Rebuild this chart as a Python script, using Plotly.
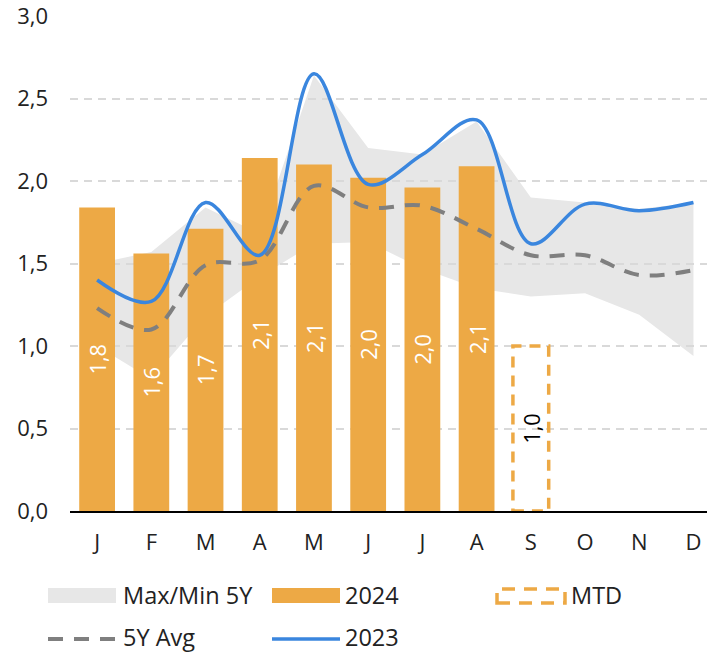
import plotly.graph_objects as go

# ---- data -------------------------------------------------------------
months = ["J", "F", "M", "A", "M", "J", "J", "A", "S", "O", "N", "D"]

values_2024 = [1.84, 1.56, 1.71, 2.14, 2.10, 2.02, 1.96, 2.09]
mtd_index = [8]
mtd_values = [1.00]

values_2023 = [1.40, 1.27, 1.87, 1.55, 2.65, 1.98, 2.16, 2.37, 1.62, 1.86, 1.82, 1.87]
avg_5y = [1.23, 1.10, 1.49, 1.52, 1.97, 1.84, 1.85, 1.71, 1.55, 1.55, 1.43, 1.46]
max_5y = [1.50, 1.57, 1.84, 1.68, 2.64, 2.20, 2.16, 2.36, 1.90, 1.87, 1.83, 1.87]
min_5y = [1.00, 0.80, 1.18, 1.42, 1.62, 1.63, 1.47, 1.35, 1.30, 1.32, 1.19, 0.94]

y_ticks = [0.0, 0.5, 1.0, 1.5, 2.0, 2.5, 3.0]

# ---- styling ----------------------------------------------------------
FONT = "Open Sans"
TEXT = "#222222"
ORANGE = "#EDA945"
BLUE = "#3A86DE"
GREY_LINE = "#7F7F7F"
BAND = "#E7E7E7"
GRID = "#D9D9D9"
BAR_W = 0.66
TICK_SIZE = 22
LEGEND_SIZE = 23.5
LABEL_SIZE = 22

W, H = 707, 655
M_L, M_R, M_T, M_B = 70, 0, 16, 144
PW, PH = W - M_L - M_R, H - M_T - M_B


def px_x(px):
    return (px - M_L) / PW


def px_y(py):
    return (H - M_B - py) / PH


x_all = list(range(len(months)))
x_2024 = list(range(len(values_2024)))

fig = go.Figure()

# 2024 monthly bars with rotated labels
fig.add_trace(go.Bar(
    x=x_2024, y=values_2024, width=BAR_W,
    marker=dict(color=ORANGE, line=dict(width=0)),
    texttemplate="%{y:.1f}", textposition="inside", insidetextanchor="middle",
    textangle=-90, textfont=dict(color="white", size=LABEL_SIZE, family=FONT),
    name="2024", hoverinfo="skip",
))

# month-to-date value (outline drawn as a dashed rectangle below)
fig.add_trace(go.Bar(
    x=mtd_index, y=mtd_values, width=BAR_W,
    marker=dict(color="rgba(0,0,0,0)", line=dict(width=0)),
    texttemplate="%{y:.1f}", textposition="inside", insidetextanchor="middle",
    textangle=-90, textfont=dict(color="black", size=LABEL_SIZE, family=FONT),
    name="MTD", hoverinfo="skip",
))

fig.add_trace(go.Scatter(
    x=x_all, y=avg_5y, mode="lines", name="5Y Avg",
    line=dict(color=GREY_LINE, width=4, dash="15px,11px", shape="spline", smoothing=1.0),
    hoverinfo="skip",
))
fig.add_trace(go.Scatter(
    x=x_all, y=values_2023, mode="lines", name="2023",
    line=dict(color=BLUE, width=3.5, shape="spline", smoothing=1.0),
    hoverinfo="skip",
))

shapes = []

# Max/Min 5Y band, under the gridlines
band_pts = list(zip(x_all, max_5y)) + list(zip(x_all[::-1], min_5y[::-1]))
band_path = "M " + " L ".join(f"{x},{y}" for x, y in band_pts) + " Z"
shapes.append(dict(type="path", path=band_path, xref="x", yref="y",
                   fillcolor=BAND, line=dict(width=0), layer="below"))

# dashed outline of the month-to-date bar
for xi, yv in zip(mtd_index, mtd_values):
    shapes.append(dict(type="rect", xref="x", yref="y",
                       x0=xi - BAR_W / 2, x1=xi + BAR_W / 2, y0=0, y1=yv,
                       line=dict(color=ORANGE, width=3.5, dash="11px,8px"),
                       fillcolor="rgba(0,0,0,0)", layer="above"))

# ---- legend ---------------------------------------------------------
annotations = []


def legend_text(px, py, label):
    annotations.append(dict(x=px_x(px), y=px_y(py), xref="paper", yref="paper",
                            text=label, showarrow=False, xanchor="left", yanchor="middle",
                            font=dict(family=FONT, size=LEGEND_SIZE, color=TEXT)))


def legend_box(x0, x1, y0, y1, **style):
    shapes.append(dict(type="rect", xref="paper", yref="paper",
                       x0=px_x(x0), x1=px_x(x1), y0=px_y(y1), y1=px_y(y0), **style))


def legend_line(x0, x1, yy, **line):
    shapes.append(dict(type="line", xref="paper", yref="paper",
                       x0=px_x(x0), x1=px_x(x1), y0=px_y(yy), y1=px_y(yy), line=line))


ROW1, ROW2 = 595, 637
legend_box(48, 116, 588, 603, fillcolor=BAND, line=dict(width=0))
legend_text(121, ROW1, "Max/Min 5Y")
legend_box(272, 340, 588, 603, fillcolor=ORANGE, line=dict(width=0))
legend_text(343, ROW1, "2024")
legend_box(497, 565, 589, 603, fillcolor="rgba(0,0,0,0)",
           line=dict(color=ORANGE, width=3.5, dash="13px,9px"))
legend_text(569, ROW1, "MTD")
legend_line(48, 116, 639, color=GREY_LINE, width=4, dash="15px,11px")
legend_text(121, ROW2, "5Y Avg")
legend_line(272, 340, 639, color=BLUE, width=3.5)
legend_text(343, ROW2, "2023")

fig.update_layout(
    width=W, height=H,
    margin=dict(l=M_L, r=M_R, t=M_T, b=M_B, pad=0),
    paper_bgcolor="white", plot_bgcolor="white",
    separators=", ",
    showlegend=False,
    barmode="overlay",
    font=dict(family=FONT, size=TICK_SIZE, color=TEXT),
    shapes=shapes,
    annotations=annotations,
)

fig.update_xaxes(
    range=[-0.5, 11.25], tickmode="array", tickvals=x_all, ticktext=months,
    showgrid=False, zeroline=False, showline=True, linecolor="black", linewidth=2,
    ticks="", ticklabelstandoff=11, tickfont=dict(size=TICK_SIZE, color=TEXT),
)
fig.update_yaxes(
    range=[0, 3], tickmode="array", tickvals=y_ticks, tickformat=".1f",
    showgrid=True, gridcolor=GRID, gridwidth=1.5, griddash="8px,6px",
    zeroline=False, showline=False, ticks="", ticklabelstandoff=21,
    ticklabeloverflow="allow", tickfont=dict(size=TICK_SIZE, color=TEXT),
)

fig.write_html("out.html")
